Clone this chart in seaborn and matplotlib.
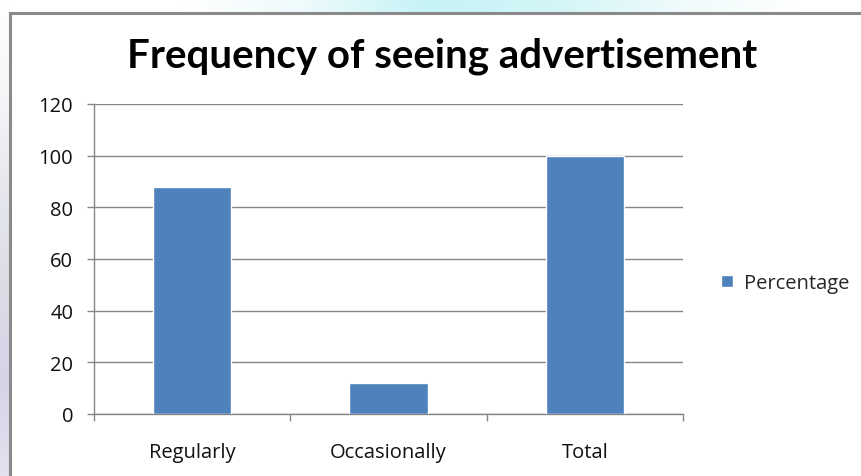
import numpy as np
import pandas as pd
import matplotlib
matplotlib.use("Agg")
import matplotlib.pyplot as plt
import seaborn as sns
from matplotlib.patches import Rectangle
from matplotlib.colors import LinearSegmentedColormap

# Chart data
categories = ["Regularly", "Occasionally", "Total"]
percentage = [88, 12, 100]
series_name = "Percentage"
y_ticks = [0, 20, 40, 60, 80, 100, 120]
title = "Frequency of seeing advertisement"

df = pd.DataFrame({"category": categories, "value": percentage, "series": series_name})

sns.set_theme(style="white")
plt.rcParams["font.family"] = ["Open Sans", "DejaVu Sans"]

W, H = 862, 477
fig = plt.figure(figsize=(W / 100, H / 100), dpi=100)

# Slide backdrop behind the chart frame
bg = fig.add_axes([0, 0, 1, 1], zorder=-10)
bg.set_xlim(0, W)
bg.set_ylim(H, 0)
bg.axis("off")
glow = LinearSegmentedColormap.from_list(
    "glow", ["#ffffff", "#eefafc", "#c6f3f6", "#d2f5f7", "#eefafb", "#ffffff"])
bg.imshow(np.linspace(0, 1, 256)[None, :], cmap=glow,
          extent=[180, 800, 14, 0], aspect="auto", zorder=0)
side = LinearSegmentedColormap.from_list(
    "side", ["#ffffff", "#f4f6f8", "#e6e8ee", "#dcdce6", "#d6d3e6", "#e4e2f0"])
bg.imshow(np.linspace(0, 1, 256)[:, None], cmap=side,
          extent=[0, 9, H, 0], aspect="auto", zorder=0)
bg.add_patch(Rectangle((10, 14), W, H, facecolor="white",
                       edgecolor="#8a8a8a", linewidth=2.2, zorder=1))

# Plot area
ax = fig.add_axes([94 / W, 1 - 415 / H, (683 - 94) / W, (415 - 105) / H])
ax.set_facecolor("none")
sns.barplot(data=df, x="category", y="value", hue="series",
            palette=["#4F81BD"], width=0.4, dodge=False, saturation=1,
            ax=ax, zorder=3)

ax.set_xlim(-0.5, len(categories) - 0.5)
ax.set_ylim(0, 120)
ax.set_yticks(y_ticks)
ax.set_yticklabels([str(t) for t in y_ticks])
ax.set_xlabel("")
ax.set_ylabel("")
ax.yaxis.grid(True, color="#868686", linewidth=1.0)
ax.set_axisbelow(True)

for s in ["top", "right"]:
    ax.spines[s].set_visible(False)
for s in ["left", "bottom"]:
    ax.spines[s].set_color("#868686")
    ax.spines[s].set_linewidth(1.0)

# Category boundary tick marks below the horizontal axis
ax.set_xticks(np.arange(-0.5, len(categories)), minor=True)
ax.tick_params(axis="x", which="minor", length=5, width=1, color="#868686",
               direction="out", bottom=True)
ax.tick_params(axis="x", which="major", length=0, pad=20,
               labelsize=14.5, labelcolor="#111111")
ax.tick_params(axis="y", which="major", length=5, width=1, color="#868686",
               direction="out", left=True, pad=10,
               labelsize=14.5, labelcolor="#111111")

handles, labels = ax.get_legend_handles_labels()
ax.legend(handles, labels, loc="center left",
          bbox_to_anchor=(721 / W, 1 - 284 / H), bbox_transform=fig.transFigure,
          frameon=False, handlelength=0.6, handleheight=0.6,
          handletextpad=0.55, borderpad=0, borderaxespad=0, fontsize=14.5)

fig.text(442 / W, 1 - 56 / H, title, ha="center", va="center",
         fontsize=29, fontweight="bold", color="#000000", family=["Lato", "DejaVu Sans"])

fig.savefig("out.png", dpi=100)
